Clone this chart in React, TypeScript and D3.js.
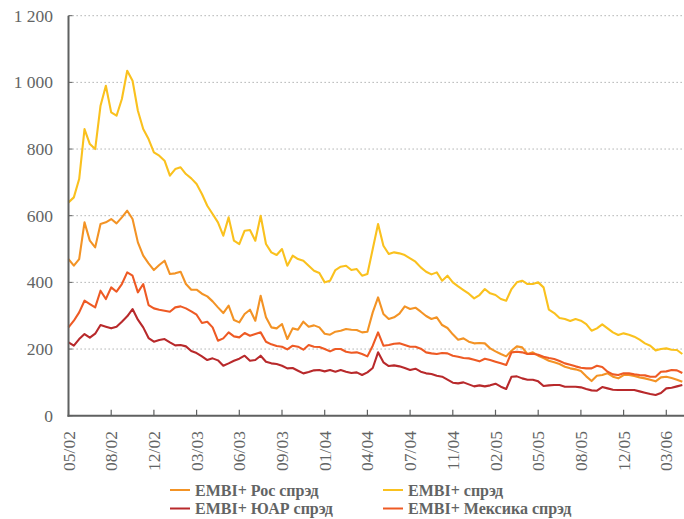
import React from "react";
import * as d3 from "d3";

const W = 684;
const H = 519;

// Tick labels (category axis, one label every 8 data points)
const tickLabels = ["05/02","08/02","12/02","03/03","06/03","09/03","01/04","04/04","07/04","11/04","02/05","05/05","08/05","12/05","03/06"];
const TICK_EVERY = 8;
const yTicks = [0, 200, 400, 600, 800, 1000, 1200];

// Series values, bp
const embiGlobal = [640,655,710,860,815,800,930,990,910,900,950,1035,1005,915,860,830,790,780,765,720,740,745,725,712,695,665,630,605,580,540,595,525,515,555,557,525,600,515,490,482,500,450,480,470,465,450,435,428,400,405,437,447,450,437,440,420,425,500,575,510,485,490,487,482,472,462,445,432,424,430,405,420,400,388,377,366,352,362,380,367,362,350,345,380,400,405,395,395,400,385,318,308,293,290,284,290,285,275,255,262,274,262,250,242,247,243,237,228,217,210,196,200,202,198,197,185];
const embiRussia = [470,450,470,580,525,505,575,580,590,577,595,615,590,520,480,457,437,452,465,425,427,432,395,378,378,366,358,343,325,308,330,287,280,305,318,285,360,295,265,262,275,230,262,258,282,267,271,265,246,243,252,255,260,258,257,250,252,310,355,305,290,295,306,328,320,324,312,299,290,295,272,263,244,228,232,222,217,218,217,202,193,185,178,195,208,205,185,190,180,173,165,160,155,147,142,139,134,118,104,120,122,127,117,112,122,122,119,115,112,108,103,115,117,113,108,102];
const embiMexico = [265,285,310,345,335,325,375,350,385,372,395,430,420,370,395,332,322,318,315,312,325,328,322,313,303,278,282,265,225,232,250,238,235,248,240,245,250,222,214,209,207,199,210,207,198,212,207,206,200,193,200,200,192,189,190,185,178,210,250,210,212,216,217,212,207,207,201,190,187,185,188,187,180,177,173,172,168,163,171,167,162,157,152,190,192,190,185,186,183,177,173,170,164,157,153,148,144,142,142,150,146,132,124,122,127,127,124,122,121,117,117,132,133,137,136,128];
const embiSouthAfrica = [220,210,230,245,234,246,272,267,262,267,282,298,320,288,265,233,222,227,230,220,211,212,208,194,188,178,167,172,166,150,157,165,171,180,165,167,180,162,157,155,150,142,143,135,127,131,136,137,133,137,132,137,132,128,130,122,130,143,190,160,149,151,148,143,137,141,132,127,125,120,117,108,99,97,100,94,88,91,88,91,96,87,80,117,118,112,108,108,103,89,91,92,92,87,87,87,85,80,76,75,86,82,78,77,77,77,77,73,69,65,62,68,82,84,88,92];

const seriesNames = ["EMBI+ Рос спрэд", "EMBI+ спрэд", "EMBI+ ЮАР спрэд", "EMBI+ Мексика спрэд"];
const seriesColors = ["#F39325", "#FAC11E", "#B8292B", "#EE5A24"];
const seriesData = [embiRussia, embiGlobal, embiSouthAfrica, embiMexico];
const drawOrder = [1, 0, 3, 2];

const AXIS = "#5f6161";
const TEXT = "#626464";
const FONT = "'Liberation Serif', 'Times New Roman', serif";

export default function App() {
  const left = 68.5;
  const top = 15.7;
  const bottom = 415.7;
  const step = 42.7 / TICK_EVERY;
  const n = embiGlobal.length;

  const x = d3.scaleLinear().domain([0, n - 1]).range([left, left + step * (n - 1)]);
  const y = d3.scaleLinear().domain([0, 1200]).range([bottom, top]);

  const line = d3
    .line<number>()
    .x((_, i) => x(i))
    .y((d) => y(d))
    .curve(d3.curveLinear);

  const tickIdx = tickLabels.map((_, k) => k * TICK_EVERY);

  const legendPos = [
    { lx: 170, ty: 490 },
    { lx: 383, ty: 490 },
    { lx: 170, ty: 508.5 },
    { lx: 383, ty: 508.5 },
  ];

  return (
    <svg
      width={W}
      height={H}
      style={{ position: "absolute", left: 0, top: 0, background: "#fff" }}
      fontFamily={FONT}
    >
      {/* gridlines */}
      {yTicks.filter((t) => t > 0).map((t) => (
        <line
          key={"g" + t}
          x1={left}
          x2={W}
          y1={y(t)}
          y2={y(t)}
          stroke="#a3a5a5"
          strokeWidth={1}
          strokeDasharray="1.3,2.7"
        />
      ))}

      {/* series */}
      {drawOrder.map((si) => (
        <path
          key={"s" + si}
          d={line(seriesData[si]) || ""}
          fill="none"
          stroke={seriesColors[si]}
          strokeWidth={2.1}
          strokeLinejoin="round"
        />
      ))}

      {/* axes */}
      <line x1={left} x2={left} y1={top} y2={bottom + 1} stroke={AXIS} strokeWidth={2} />
      <line x1={left - 1} x2={W} y1={bottom} y2={bottom} stroke={AXIS} strokeWidth={2} />
      {yTicks.map((t) => (
        <g key={"yt" + t}>
          <line x1={left} x2={left + 4} y1={y(t)} y2={y(t)} stroke={AXIS} strokeWidth={1} />
          <text
            x={53}
            y={y(t)}
            dy="0.35em"
            textAnchor="end"
            fontSize={17.5}
            fill={TEXT}
          >
            {d3.format(",")(t).replace(/,/g, " ")}
          </text>
        </g>
      ))}
      {tickIdx.map((ti, k) => (
        <g key={"xt" + k}>
          <line x1={x(ti)} x2={x(ti)} y1={bottom} y2={bottom - 6} stroke={AXIS} strokeWidth={1.2} />
          <text
            transform={`translate(${x(ti) + 6},${431}) rotate(-90)`}
            textAnchor="end"
            fontSize={17.5}
            fill={TEXT}
          >
            {tickLabels[k]}
          </text>
        </g>
      ))}

      {/* legend */}
      {seriesNames.map((name, i) => (
        <g key={"l" + i}>
          <line
            x1={legendPos[i].lx}
            x2={legendPos[i].lx + 20}
            y1={legendPos[i].ty}
            y2={legendPos[i].ty}
            stroke={seriesColors[i]}
            strokeWidth={2}
          />
          <text
            x={legendPos[i].lx + 25}
            y={legendPos[i].ty}
            dy="0.35em"
            fontSize={16}
            fontWeight="bold"
            fill={TEXT}
          >
            {name}
          </text>
        </g>
      ))}
    </svg>
  );
}
